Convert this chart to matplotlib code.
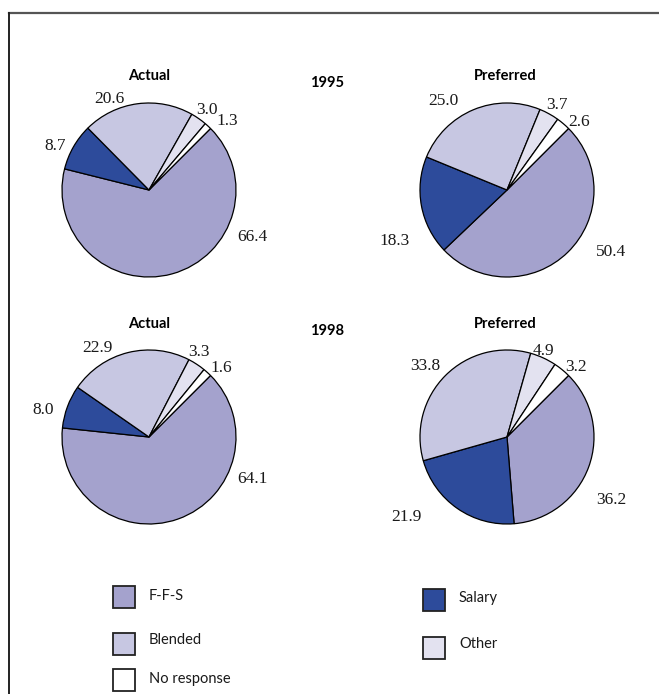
import matplotlib
matplotlib.use("Agg")
import numpy as np
import matplotlib.pyplot as plt
from matplotlib.patches import Rectangle
from matplotlib.lines import Line2D

W, H = 659, 694
DPI = 100

# ---- data -------------------------------------------------------------
categories = ["F-F-S", "Salary", "Blended", "Other", "No response"]
actual_1995 = [66.4, 8.7, 20.6, 3.0, 1.3]
preferred_1995 = [50.4, 18.3, 25.0, 3.7, 2.6]
actual_1998 = [64.1, 8.0, 22.9, 3.3, 1.6]
preferred_1998 = [36.2, 21.9, 33.8, 4.9, 3.2]
years = ["1995", "1998"]
panel_titles = ["Actual", "Preferred"]

colors = {
    "F-F-S": "#a4a2cd",
    "Salary": "#2d4b9b",
    "Blended": "#c7c7e2",
    "Other": "#e3e2f0",
    "No response": "#ffffff",
}

# label placement (angle in degrees, distance in radii) for each wedge
label_pos = {
    "a95": [(-24.5, 1.30), (154.9, 1.19), (113.7, 1.14), (54.1, 1.14), (41.5, 1.20)],
    "p95": [(-30.8, 1.39), (204.3, 1.42), (125.7, 1.26), (59.5, 1.13), (43.4, 1.14)],
    "a98": [(-22.2, 1.28), (165.7, 1.26), (120.3, 1.18), (59.5, 1.13), (43.4, 1.15)],
    "p98": [(-31.2, 1.40), (218.4, 1.48), (139.1, 1.25), (67.0, 1.08), (45.4, 1.13)],
}

SANS = ["Lato", "DejaVu Sans"]
SERIF = ["Liberation Serif", "DejaVu Serif"]

fig = plt.figure(figsize=(W / DPI, H / DPI), dpi=DPI)
fig.patch.set_facecolor("white")


def fx(px):
    return px / W


def fy(py):
    return 1 - py / H


# outer frame: top rule and left rule
fig.add_artist(Line2D([fx(9), fx(W)], [fy(13), fy(13)], color="#555555", lw=1.6,
                      transform=fig.transFigure))
fig.add_artist(Line2D([fx(9), fx(9)], [fy(13), fy(H)], color="#222222", lw=1.4,
                      transform=fig.transFigure))

R = 87  # pie radius in pixels


def draw_pie(cx, cy, values, key):
    ax = fig.add_axes([fx(cx - R), fy(cy + R), 2 * R / W, 2 * R / H])
    ax.pie(values, colors=[colors[c] for c in categories], startangle=45,
           counterclock=False, radius=1.0,
           wedgeprops=dict(edgecolor="black", linewidth=0.9))
    ax.set_xlim(-1, 1)
    ax.set_ylim(-1, 1)
    ax.set_aspect("equal")
    ax.axis("off")
    for w in ax.patches:
        w.set_clip_on(False)
    for v, (ang, d) in zip(values, label_pos[key]):
        t = np.deg2rad(ang)
        ax.text(d * np.cos(t), d * np.sin(t), f"{v:.1f}", ha="center", va="center",
                fontsize=12.5, family=SERIF, color="#1a1a1a", clip_on=False)


draw_pie(149, 190, actual_1995, "a95")
draw_pie(507, 190, preferred_1995, "p95")
draw_pie(149, 437, actual_1998, "a98")
draw_pie(507, 437, preferred_1998, "p98")

# titles
for row_y, year in zip([76, 324], years):
    fig.text(fx(149), fy(row_y), panel_titles[0], ha="center", va="center",
             fontsize=10.5, fontweight="bold", family=SANS)
    fig.text(fx(505), fy(row_y), panel_titles[1], ha="center", va="center",
             fontsize=10.5, fontweight="bold", family=SANS)
    fig.text(fx(327), fy(row_y + 7), year, ha="center", va="center",
             fontsize=10.5, fontweight="bold", family=SANS)

# legend: (name, box left, box centre y, text centre y)
legend_items = [
    ("F-F-S", 113, 597, 596),
    ("Blended", 113, 644, 640),
    ("No response", 113, 680, 679),
    ("Salary", 423, 600, 598),
    ("Other", 423, 648, 644),
]
box = 22
for name, bx, by, ty in legend_items:
    fig.add_artist(Rectangle((fx(bx), fy(by + box / 2)), box / W, box / H,
                             facecolor=colors[name], edgecolor="#222222", lw=1.3,
                             transform=fig.transFigure))
    fig.text(fx(bx + box + 14), fy(ty), name, ha="left", va="center",
             fontsize=10.5, family=SANS, color="#1a1a1a")

fig.savefig("out.png", dpi=DPI, facecolor="white")
